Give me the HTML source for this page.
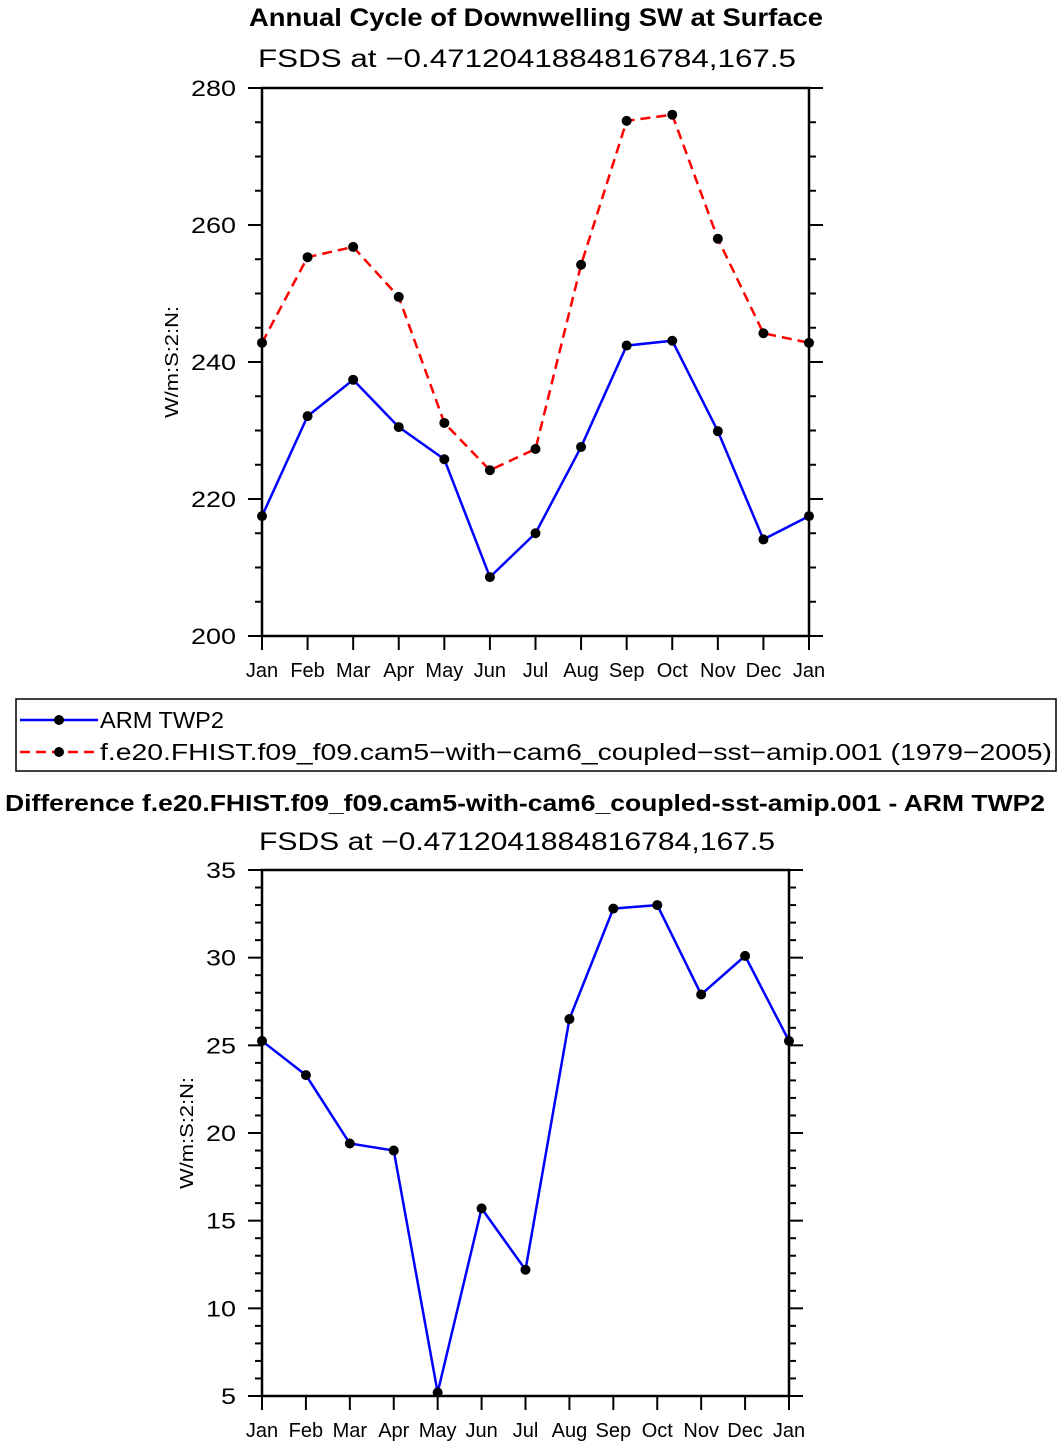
<!DOCTYPE html>
<html><head><meta charset="utf-8"><style>
body{margin:0;background:#fff}
svg text{font-family:"Liberation Sans",sans-serif}
</style></head><body>
<svg id="s" width="1062" height="1447" xmlns="http://www.w3.org/2000/svg">
<text x="536" y="26" text-anchor="middle" font-size="25" font-weight="bold" textLength="574" lengthAdjust="spacingAndGlyphs">Annual Cycle of Downwelling SW at Surface</text>
<text x="527" y="67" text-anchor="middle" font-size="25" textLength="538" lengthAdjust="spacingAndGlyphs">FSDS at −0.4712041884816784,167.5</text>
<text transform="translate(178,362) rotate(-90)" text-anchor="middle" font-size="18" textLength="112" lengthAdjust="spacingAndGlyphs">W/m:S:2:N:</text>
<g id="top"></g>
<rect x="16" y="699" width="1040" height="72" fill="none" stroke="#000" stroke-width="1.5"/>
<g>
<line x1="20" y1="720" x2="98" y2="720" stroke="#0000ff" stroke-width="2.5"/><circle cx="59" cy="720" r="5"/>
<text x="100" y="728" font-size="23" textLength="124" lengthAdjust="spacingAndGlyphs">ARM TWP2</text></g>
<g>
<line x1="20" y1="752" x2="98" y2="752" stroke="#ff0000" stroke-width="2.5" stroke-dasharray="10,6"/><circle cx="59" cy="752" r="5"/>
<text x="100" y="760" font-size="23" textLength="952" lengthAdjust="spacingAndGlyphs">f.e20.FHIST.f09_f09.cam5−with−cam6_coupled−sst−amip.001 (1979−2005)</text></g>
<text x="525" y="811" text-anchor="middle" font-size="23" font-weight="bold" textLength="1040" lengthAdjust="spacingAndGlyphs">Difference f.e20.FHIST.f09_f09.cam5-with-cam6_coupled-sst-amip.001 - ARM TWP2</text>
<text x="517" y="850" text-anchor="middle" font-size="25" textLength="516" lengthAdjust="spacingAndGlyphs">FSDS at −0.4712041884816784,167.5</text>
<text transform="translate(193,1133) rotate(-90)" text-anchor="middle" font-size="18" textLength="112" lengthAdjust="spacingAndGlyphs">W/m:S:2:N:</text>
<g id="bot"></g>
</svg>
<script>
const months=["Jan","Feb","Mar","Apr","May","Jun","Jul","Aug","Sep","Oct","Nov","Dec","Jan"];
const armValues=[217.5,232.1,237.4,230.5,225.8,208.6,215.0,227.6,242.4,243.1,229.9,214.1,217.5];
const modelValues=[242.8,255.3,256.8,249.5,231.1,224.2,227.3,254.2,275.2,276.1,258.0,244.2,242.8];
const diffValues=[25.25,23.3,19.4,19.0,5.2,15.7,12.2,26.5,32.8,33.0,27.9,30.1,25.25];
const topTicks=[200,220,240,260,280];
const botTicks=[5,10,15,20,25,30,35];
const NS="http://www.w3.org/2000/svg";
function mk(p,t,a){const e=document.createElementNS(NS,t);for(const k in a)e.setAttribute(k,a[k]);p.appendChild(e);return e;}
function plot(g,L,R,T,B,ymin,ymax,ticks,minorStep,series,name){
  const xs=i=>L+(R-L)*i/(months.length-1);
  const ys=v=>B-(B-T)*(v-ymin)/(ymax-ymin);
  for(let v=ymin;v<=ymax+1e-9;v+=minorStep){
    const maj=ticks.includes(Math.round(v*100)/100);const len=maj?14:7;
    const a=mk(g,"line",{x1:L-len,x2:L,y1:ys(v),y2:ys(v),stroke:"#000","stroke-width":2});
    
    
    mk(g,"line",{x1:R,x2:R+len,y1:ys(v),y2:ys(v),stroke:"#000","stroke-width":2});
  }
  ticks.forEach(v=>{const t=mk(g,"text",{x:L-26,y:ys(v)+8,"text-anchor":"end","font-size":22});t.textContent=v;
    t.setAttribute('textLength',String(v).length*15);
    t.setAttribute('lengthAdjust','spacingAndGlyphs');
    
    });
  months.forEach((m,i)=>{mk(g,"line",{x1:xs(i),x2:xs(i),y1:B,y2:B+14,stroke:"#000","stroke-width":2});
    const t=mk(g,"text",{x:xs(i),y:B+41,"text-anchor":"middle","font-size":20});t.textContent=m;
    
    });
  const fr=mk(g,"rect",{x:L,y:T,width:R-L,height:B-T,fill:"none",stroke:"#000","stroke-width":2.5});
  
  
  series.forEach(s=>{
    const pl=mk(g,"polyline",{points:s.v.map((v,i)=>xs(i)+","+ys(v)).join(" "),fill:"none",stroke:s.c,"stroke-width":2.5,"stroke-dasharray":s.d||"none"});
    
    
    s.v.forEach((v,i)=>{const c=mk(g,"circle",{cx:xs(i),cy:ys(v),r:5,fill:"#000"});
      
      });
  });
}
plot(document.getElementById("top"),262,809,88,636,200,280,topTicks,5,
 [{v:modelValues,c:"#ff0000",d:"10,6",n:"model"},{v:armValues,c:"#0000ff",n:"arm"}],"top");
plot(document.getElementById("bot"),262,789,870,1396,5,35,botTicks,1,
 [{v:diffValues,c:"#0000ff",n:"difference"}],"bottom");
</script>
</body></html>
